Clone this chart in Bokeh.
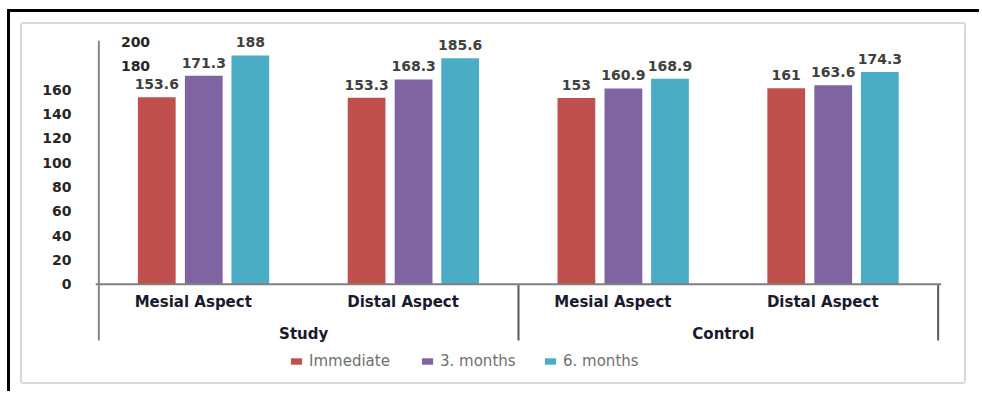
from bokeh.plotting import figure
from bokeh.layouts import column
from bokeh.models import (FactorRange, Range1d, ColumnDataSource, FixedTicker, Span,
                          Legend, LegendItem)
from bokeh.transform import dodge
from bokeh.core.properties import value
from bokeh.embed import file_html
from bokeh.resources import INLINE

# ---------------- data ----------------
groups = ["Study", "Control"]
aspects = ["Mesial Aspect", "Distal Aspect"]
series = ["Immediate", "3. months", "6. months"]
immediate = [153.6, 153.3, 153, 161]
months3 = [171.3, 168.3, 160.9, 163.6]
months6 = [188, 185.6, 168.9, 174.3]
y_ticks = [0, 20, 40, 60, 80, 100, 120, 140, 160, 180, 200]

colors = ["#C0504D", "#8064A2", "#4BACC6"]
FONT = "DejaVu Sans"

factors = [(g, a) for g in groups for a in aspects]
src = ColumnDataSource(dict(
    x=factors,
    immediate=immediate,
    months3=months3,
    months6=months6,
    l_imm=[str(v) for v in immediate],
    l_m3=[str(v) for v in months3],
    l_m6=[str(v) for v in months6],
))

axis_low = -46.2     # where the category separators end
frame_low = -75.0    # bottom of plotting frame (room for legend)
axis_top = 200
frame_top = 208.5    # a little headroom so top labels are not clipped

fig = figure(width=946, height=362,
             x_range=FactorRange(*factors, group_padding=0, range_padding=0.008),
             y_range=Range1d(frame_low, frame_top),
             x_axis_location=None,
             output_backend="svg", toolbar_location=None,
             min_border_left=73, min_border_right=27,
             min_border_top=6, min_border_bottom=11,
             margin=(10, 0, 0, 10),
             styles={"border": "2px solid #d9d9d9", "border-radius": "3px"})
fig.outline_line_color = None
fig.xgrid.visible = False
fig.ygrid.visible = False
fig.background_fill_color = "white"
fig.border_fill_color = "white"

# y axis (labels only; the axis line is drawn as a segment so it stops at the separators)
fig.yaxis.ticker = FixedTicker(ticks=[t for t in y_ticks if t <= 160])
fig.yaxis.axis_line_color = None
fig.yaxis.major_tick_line_color = None
fig.yaxis.minor_tick_line_color = None
fig.yaxis.major_label_standoff = 18
fig.yaxis.major_label_text_font = FONT
fig.yaxis.major_label_text_font_style = "bold"
fig.yaxis.major_label_text_font_size = "14px"
fig.yaxis.major_label_text_color = "#262626"

# displaced upper tick labels (as in the reference)
upper = [t for t in y_ticks if t > 160]
fig.text(x=[0.105] * len(upper), y=upper, text=[str(t) for t in upper],
         text_font=value(FONT), text_font_style="bold", text_font_size="14px",
         text_color="#262626", text_align="left", text_baseline="middle", y_offset=1)

# bars
offsets = [-0.224, 0.0, 0.222]
fields = ["immediate", "months3", "months6"]
lfields = ["l_imm", "l_m3", "l_m6"]
bars = []
for off, f, lf, c in zip(offsets, fields, lfields, colors):
    r = fig.vbar(x=dodge("x", off, range=fig.x_range), top=f, bottom=0, width=0.18,
                 source=src, fill_color=c, line_color=None)
    bars.append(r)
    fig.text(x=dodge("x", off, range=fig.x_range), y=f, text=lf, source=src,
             text_font=value(FONT), text_font_style="bold", text_font_size="14px",
             text_color="#404040", text_align="center", text_baseline="bottom", y_offset=-8)

# axis lines, baseline and separators
fig.segment(x0=[0], y0=[axis_low], x1=[0], y1=[axis_top], line_color="#868686", line_width=2)
fig.add_layout(Span(location=0, dimension="width", line_color="#7f7f7f", line_width=2))
fig.segment(x0=[2, 4], y0=[0, 0], x1=[2, 4], y1=[axis_low, axis_low],
            line_color="#595959", line_width=2)

# category labels
fig.text(x=factors, y=[-14.5] * len(factors), text=[a for g, a in factors],
         text_font=value(FONT), text_font_style="bold", text_font_size="15px",
         text_color="#1a1a2e", text_align="center", text_baseline="middle", x_offset=-10.5)
fig.text(x=groups, y=[-40.5] * len(groups), text=groups,
         text_font=value(FONT), text_font_style="bold", text_font_size="15px",
         text_color="#1a1a2e", text_align="center", text_baseline="middle", x_offset=-5)

# legend: one entry per box so each label sits where the reference shows it
legend_x = [194, 325, 448]       # glyph left edge, px from frame left
for s, r, lx in zip(series, bars, legend_x):
    lg = Legend(items=[LegendItem(label=s, renderers=[r])],
                orientation="horizontal", location=(lx, 5),
                glyph_width=14, glyph_height=8, label_standoff=6,
                padding=0, margin=0, border_line_color=None, background_fill_alpha=0,
                label_text_font=FONT, label_text_font_size="15px", label_text_color="#6f6f6f")
    fig.add_layout(lg)

p = column(fig, margin=(9, 0, 0, 7), width=972, height=382,
           styles={"border-top": "3px solid black", "border-left": "3px solid black"})

open("out.html", "w").write(file_html(p, INLINE))
